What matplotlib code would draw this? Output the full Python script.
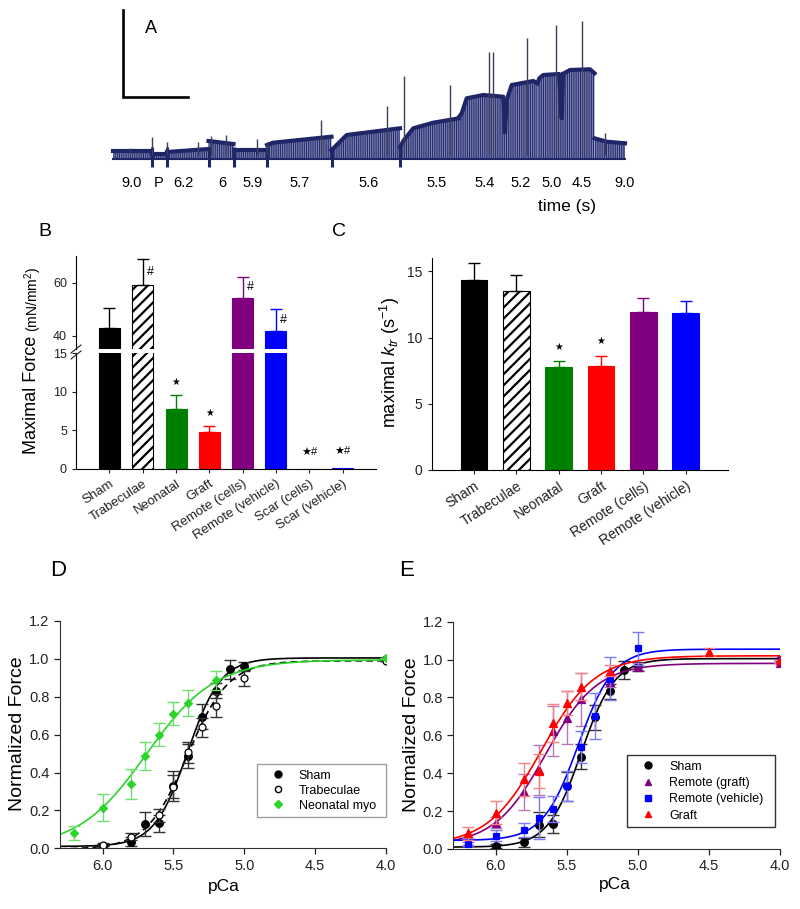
import numpy as np
import matplotlib
matplotlib.use('Agg')
import matplotlib.pyplot as plt
from matplotlib.lines import Line2D

plt.rcParams['font.family'] = ['Liberation Sans', 'DejaVu Sans']
plt.rcParams['mathtext.fontset'] = 'custom'
plt.rcParams['mathtext.rm'] = 'Liberation Sans'
plt.rcParams['mathtext.it'] = 'Liberation Sans:italic'

W, H = 800, 909

# ---- A: raw force trace (arbitrary units) ----
trace_tops = [
    [(0, 4), (39, 4)],
    [(39, 1.5), (54, 1.5)],
    [(54, 3), (95.5, 6)],
    [(95.5, 14), (120.5, 11)],
    [(120.5, 5.5), (154, 5.5)],
    [(154, 10), (160, 12.3), (218.5, 18.3)],
    [(218.5, 5), (222, 8.3), (233.7, 20), (287, 26.7)],
    [(287, 8), (291, 15), (300.3, 26.7), (320.3, 32.3), (346, 36.7)],
    [(346, 38), (348.7, 41.7), (353.7, 56.7), (370.3, 60), (390.3, 58.3),
     (392, 23.3)],
    [(392, 23.3), (393.7, 55), (398.7, 70), (420.3, 74), (424.5, 71.7)],
    [(424.5, 72), (426.3, 76.7), (430.3, 80), (446, 81), (448.7, 36.7),
     (450, 81)],
    [(450, 81), (451, 81.7), (457, 85), (477, 85.7), (481.5, 81.7)],
    [(481.5, 16.7), (493.7, 13.3), (512, 11.7)],
]
trace_floor = -4
dip_t = [39, 54, 95.5, 120.5, 154, 218.5, 287]
dip_f = -11.7
spike_t = [17, 39, 54, 84.7, 98, 113, 143.7, 153.7, 207.7, 274.3, 291,
           337, 376, 380.3, 413.7, 443, 469.3, 492]
spike_f = [6.7, 17.7, 13.3, 13.3, 19, 20, 15.7, 13.3, 35, 49, 79,
           70, 103.3, 103.3, 116.7, 130, 134.3, 21.7]
step_labels = ['9.0', 'P', '6.2', '6', '5.9', '5.7', '5.6', '5.5', '5.4',
               '5.2', '5.0', '4.5', '9.0']
step_label_t = [18.7, 45.3, 70.3, 109.7, 139.7, 187, 255.3, 323.7, 372,
                407.7, 438.7, 468.7, 512]

# ---- B: maximal force ----
groups_b = ['Sham', 'Trabeculae', 'Neonatal', 'Graft', 'Remote (cells)',
            'Remote (vehicle)', 'Scar (cells)', 'Scar (vehicle)']
force_max = [42.8, 58.9, 7.73, 4.8, 54.2, 41.8, 0.0, 0.12]
force_sem = [7.8, 10.1, 1.9, 0.77, 8.0, 8.2, 0.0, 0.0]
marks_b = ['', '#', '★', '★', '#', '#', '★#', '★#']

# ---- C: maximal ktr ----
groups_c = groups_b[:6]
ktr_max = [14.32, 13.51, 7.78, 7.86, 11.96, 11.86]
ktr_sem = [1.27, 1.19, 0.41, 0.78, 1.04, 0.92]
marks_c = ['', '', '★', '★', '', '']

bar_colors = ['black', 'white', '#008000', '#ff0000', '#800080', '#0000ff',
              '#0000ff', '#0000ff']

# ---- D / E: force-pCa ----
sham_pca = [6.0, 5.8, 5.7, 5.6, 5.5, 5.4, 5.3, 5.2, 5.1, 5.0, 4.0]
sham_f = [0.014, 0.035, 0.128, 0.132, 0.33, 0.487, 0.695, 0.832, 0.945, 0.964, 1.0]
sham_err = [0.01, 0.025, 0.065, 0.045, 0.078, 0.065, 0.066, 0.04, 0.05, 0.022, 0.0]

trab_pca = [6.0, 5.8, 5.6, 5.5, 5.4, 5.3, 5.2, 5.0, 4.0]
trab_f = [0.018, 0.062, 0.174, 0.326, 0.507, 0.64, 0.753, 0.897, 0.99]
trab_err = [0.008, 0.02, 0.035, 0.06, 0.055, 0.05, 0.06, 0.04, 0.0]

neo_pca = [6.2, 6.0, 5.8, 5.7, 5.6, 5.5, 5.4, 5.2, 4.0]
neo_f = [0.083, 0.215, 0.338, 0.487, 0.60, 0.71, 0.767, 0.887, 1.003]
neo_err = [0.037, 0.07, 0.079, 0.073, 0.06, 0.06, 0.07, 0.05, 0.0]

rg_pca = [6.2, 6.0, 5.8, 5.7, 5.6, 5.5, 5.4, 5.2, 5.0, 4.0]
rg_f = [0.039, 0.139, 0.30, 0.417, 0.623, 0.693, 0.79, 0.883, 0.963, 0.98]
rg_err = [0.02, 0.03, 0.095, 0.13, 0.13, 0.14, 0.14, 0.03, 0.02, 0.0]

rv_pca = [6.2, 6.0, 5.8, 5.7, 5.6, 5.5, 5.4, 5.3, 5.2, 5.0, 4.0]
rv_f = [0.026, 0.07, 0.10, 0.162, 0.21, 0.333, 0.54, 0.702, 0.90, 1.06, 1.0]
rv_err = [0.01, 0.03, 0.035, 0.11, 0.07, 0.08, 0.085, 0.12, 0.115, 0.087, 0.0]

gr_pca = [6.2, 6.0, 5.8, 5.7, 5.6, 5.5, 5.4, 5.2, 4.5, 4.0]
gr_f = [0.083, 0.192, 0.368, 0.41, 0.664, 0.772, 0.857, 0.941, 1.04, 1.0]
gr_err = [0.035, 0.06, 0.088, 0.09, 0.10, 0.062, 0.071, 0.03, 0.02, 0.0]

# Hill fit parameters: Fmin, Fmax, pCa50, nH
fit_sham = (0.01, 1.005, 5.40, 3.7)
fit_trab = (-0.005, 0.99, 5.40, 3.0)
fit_neo = (0.0, 0.995, 5.69, 1.8)
fit_rg = (0.02, 0.98, 5.65, 2.4)
fit_rv = (0.045, 1.055, 5.42, 3.5)
fit_gr = (0.02, 1.02, 5.68, 2.3)


def hill(p, fmin, fmax, pca50, nh):
    return fmin + (fmax - fmin) / (1 + 10 ** (nh * (p - pca50)))


fig = plt.figure(figsize=(W / 100, H / 100), dpi=100)


def px_axes(x0, y0, x1, y1):
    return fig.add_axes([x0 / W, 1 - y1 / H, (x1 - x0) / W, (y1 - y0) / H])


def fig_text(x, y, s, **kw):
    fig.text(x / W, 1 - y / H, s, ha='center', va='center', **kw)


# ---------------- A ----------------
navy = '#1f2668'
axa = px_axes(100, 0, 640, 230)
axa.set_xlim(-13, 527)
axa.set_ylim(-75, 155)
axa.axis('off')
with plt.rc_context({'hatch.linewidth': 0.7}):
    for seg in trace_tops:
        t = [p[0] for p in seg]
        top = [p[1] for p in seg]
        axa.fill_between(t, trace_floor, top, facecolor='#8a90bb',
                         edgecolor=navy, hatch='|||||||||', linewidth=0)
        axa.plot(t, top, color=navy, lw=3, solid_joinstyle='round')
        axa.plot(t, [trace_floor] * len(t), color=navy, lw=1.5)
axa.vlines(dip_t, dip_f, 8, color=navy, lw=2.2)
axa.vlines(spike_t, 0, spike_f, color='#3a3f55', lw=1)
for lab, t in zip(step_labels, step_label_t):
    axa.text(t, -28, lab, ha='center', va='center', fontsize=10.5)
axa.text(453.7, -51.7, 'time (s)', ha='center', va='center', fontsize=12.5)
axa.plot([10, 10, 75], [145, 58, 58], color='black', lw=1.9,
         solid_joinstyle='miter')
axa.text(38, 126.5, 'A', ha='center', va='center', fontsize=13)


# ---------------- B ----------------
def bar_style(ax):
    ax.spines['top'].set_visible(False)
    ax.spines['right'].set_visible(False)
    ax.tick_params(direction='out', length=3, width=0.8, labelsize=9,
                   colors='#222222')


xb = np.arange(len(groups_b))
axb_hi = px_axes(76, 256, 376, 349)
axb_lo = px_axes(76, 353.3, 376, 468.7)
with plt.rc_context({'hatch.linewidth': 1.6}):
    for ax in (axb_hi, axb_lo):
        bars = ax.bar(xb, force_max, width=0.63, color=bar_colors,
                      edgecolor=bar_colors, linewidth=0.8)
        bars[1].set_edgecolor('black')
        bars[1].set_hatch('///')
        for i in xb:
            if force_sem[i] > 0:
                ec = 'black' if i == 1 else bar_colors[i]
                ax.errorbar(xb[i], force_max[i], yerr=[[0], [force_sem[i]]],
                            fmt='none', ecolor=ec, elinewidth=1, capsize=4,
                            capthick=1)
        ax.set_xlim(-1, 8)
        bar_style(ax)
axb_hi.set_ylim(35, 70)
axb_hi.set_yticks([40, 60])
axb_hi.spines['bottom'].set_visible(False)
axb_hi.set_xticks([])
axb_lo.set_ylim(0, 15)
axb_lo.set_yticks([0, 5, 10, 15])
axb_lo.set_xticks(xb)
axb_lo.set_xticklabels(groups_b, rotation=33, ha='right',
                       rotation_mode='anchor', fontsize=9.5)
for i, m in enumerate(marks_b):
    top = force_max[i] + force_sem[i]
    if m == '#':
        axb_hi.text(i + 0.22, force_max[i] + 0.5 * force_sem[i], '#',
                    ha='center', va='center', fontsize=9)
    elif m == '★':
        axb_lo.text(i, top + 1.7, '★', ha='center', va='center', fontsize=7)
    elif m == '★#':
        axb_lo.text(i, top + 2.2, '★#', ha='center', va='center', fontsize=8)
for dy in (0, 6):
    fig.add_artist(Line2D([71 / W, 81 / W],
                          [1 - (353 + dy) / H, 1 - (345 + dy) / H],
                          color='#222222', lw=0.8))
fig_text(32, 395, 'Maximal Force', rotation=90, fontsize=13)
fig_text(33, 300, '(mN/mm$^2$)', rotation=90, fontsize=10)
fig_text(45, 232, 'B', fontsize=14)

# ---------------- C ----------------
xc = np.arange(len(groups_c))
axc = px_axes(431.7, 258, 728, 470)
with plt.rc_context({'hatch.linewidth': 1.6}):
    bars = axc.bar(xc, ktr_max, width=0.63, color=bar_colors[:6],
                   edgecolor=bar_colors[:6], linewidth=0.8)
    bars[1].set_edgecolor('black')
    bars[1].set_hatch('///')
for i in xc:
    ec = 'black' if i == 1 else bar_colors[i]
    axc.errorbar(xc[i], ktr_max[i], yerr=[[0], [ktr_sem[i]]], fmt='none',
                 ecolor=ec, elinewidth=1, capsize=4, capthick=1)
    if marks_c[i]:
        axc.text(i, ktr_max[i] + ktr_sem[i] + 1.1, marks_c[i], ha='center',
                 va='center', fontsize=7)
axc.set_xlim(-1, 6)
axc.set_ylim(0, 16)
axc.set_yticks([0, 5, 10, 15])
axc.set_xticks(xc)
axc.set_xticklabels(groups_c, rotation=33, ha='right',
                    rotation_mode='anchor', fontsize=9.5)
bar_style(axc)
axc.tick_params(labelsize=10)
fig_text(390, 362, 'maximal $k_{tr}$ (s$^{-1}$)', rotation=90, fontsize=13)
fig_text(339, 231, 'C', fontsize=14)


# ---------------- D / E ----------------
pgrid = np.linspace(6.3, 4.0, 400)


def pca_style(ax):
    ax.set_xlim(6.3, 4.0)
    ax.set_ylim(0, 1.2)
    ax.set_xticks([6.0, 5.5, 5.0, 4.5, 4.0])
    ax.set_xticklabels(['6.0', '5.5', '5.0', '4.5', '4.0'])
    ax.set_yticks(np.arange(0, 1.21, 0.2))
    ax.set_yticklabels(['%.1f' % v for v in np.arange(0, 1.21, 0.2)])
    for s in ('top', 'right'):
        ax.spines[s].set_visible(False)
    for s in ('left', 'bottom'):
        ax.spines[s].set_color('#333333')
    ax.tick_params(direction='out', length=4, width=0.9, labelsize=10.5,
                   colors='#222222')


def series(ax, p, f, e, fit, color, marker, ecolor, ls='-', mfc=None, ms=5.5):
    ax.plot(pgrid, hill(pgrid, *fit), color=color, lw=1.2, ls=ls)
    ax.errorbar(p, f, yerr=e, fmt='none', ecolor=ecolor, elinewidth=1,
                capsize=4, capthick=1)
    ax.plot(p, f, ls='none', marker=marker, color=color, ms=ms,
            mfc=mfc if mfc else color, mec=color, mew=0.9)


def legend_box(ax, handles, labels, x0, top, width, edge, spacing):
    leg = ax.legend(handles, labels, loc='upper left',
                    bbox_to_anchor=(x0, top, width, 0), mode='expand',
                    borderaxespad=0, fontsize=9, handlelength=2.4,
                    handletextpad=0.5, labelspacing=spacing, fancybox=False,
                    borderpad=0.45)
    leg.get_frame().set_edgecolor(edge)
    leg.get_frame().set_linewidth(1)


green = '#2ad42a'
axd = px_axes(60, 621, 386, 848.3)
series(axd, sham_pca, sham_f, sham_err, fit_sham, 'black', 'o', '#333333')
series(axd, trab_pca, trab_f, trab_err, fit_trab, 'black', 'o', '#333333',
       ls=(0, (4, 2.5)), mfc='white', ms=5)
series(axd, neo_pca, neo_f, neo_err, fit_neo, green, 'D', '#6ee06e', ms=4.5)
pca_style(axd)
hd = [Line2D([], [], ls='none', marker='o', color='black', ms=5),
      Line2D([], [], ls='none', marker='o', color='black', mfc='white', ms=4.5),
      Line2D([], [], ls='none', marker='D', color=green, ms=4)]
legend_box(axd, hd, ['Sham', 'Trabeculae', 'Neonatal myo'],
           0.604, 0.371, 0.396, '#888888', 0.25)
fig_text(18, 734, 'Normalized Force', rotation=90, fontsize=14)
fig_text(224, 886.7, 'pCa', fontsize=12.5)
fig_text(58, 571, 'D', fontsize=16)

axe = px_axes(453.3, 621.7, 780, 849)
series(axe, sham_pca, sham_f, sham_err, fit_sham, 'black', 'o', '#333333')
series(axe, rg_pca, rg_f, rg_err, fit_rg, '#800080', '^', '#bb77bb')
series(axe, rv_pca, rv_f, rv_err, fit_rv, '#0000ff', 's', '#7a7aff', ms=5)
series(axe, gr_pca, gr_f, gr_err, fit_gr, '#ff0000', '^', '#ff8080')
pca_style(axe)
he = [Line2D([], [], ls='none', marker='o', color='black', ms=5),
      Line2D([], [], ls='none', marker='^', color='#800080', ms=5),
      Line2D([], [], ls='none', marker='s', color='#0000ff', ms=4.5),
      Line2D([], [], ls='none', marker='^', color='#ff0000', ms=5)]
legend_box(axe, he, ['Sham', 'Remote (graft)', 'Remote (vehicle)', 'Graft'],
           0.532, 0.414, 0.452, 'black', 0.35)
fig_text(411.7, 735, 'Normalized Force', rotation=90, fontsize=14)
fig_text(615, 885, 'pCa', fontsize=12.5)
fig_text(407, 571, 'E', fontsize=16)

fig.savefig('out.png', dpi=100)
